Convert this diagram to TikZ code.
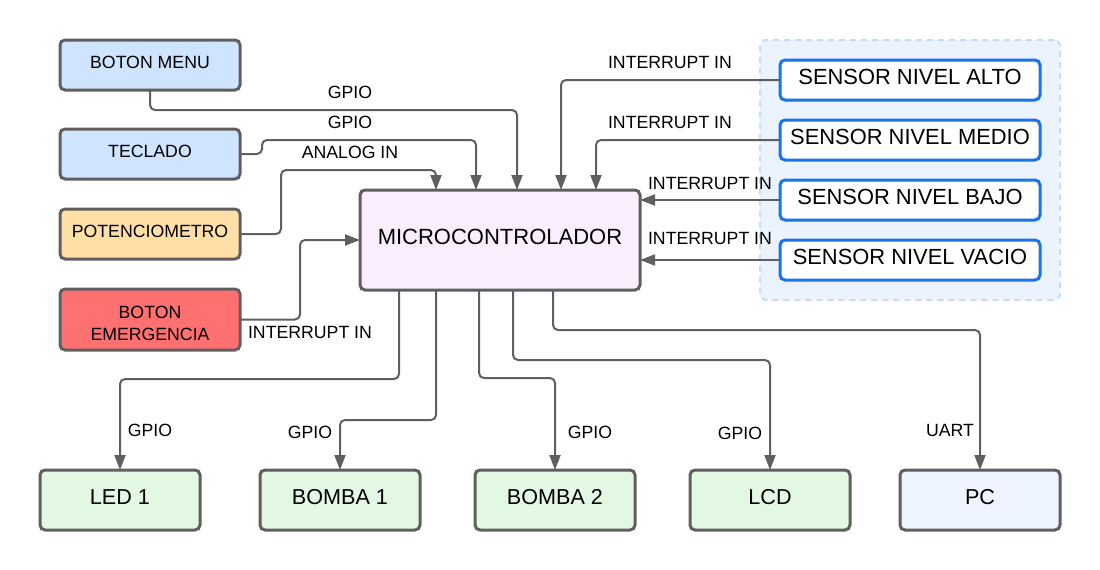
\documentclass[tikz,border=0pt]{standalone}
\usepackage{fontspec}
\setmainfont{Liberation Sans}
\usepackage{tikz}
\usetikzlibrary{positioning, arrows.meta, calc, fit, backgrounds}
\usepackage{xcolor}

\definecolor{linegray}{HTML}{5F5F5F}
\definecolor{menublue}{HTML}{CFE4FF}
\definecolor{potorange}{HTML}{FFDFA6}
\definecolor{emred}{HTML}{FF7070}
\definecolor{mcupink}{HTML}{F9EEFD}
\definecolor{outgreen}{HTML}{E2F8E2}
\definecolor{pcblue}{HTML}{EDF4FF}
\definecolor{sensorblue}{HTML}{1A73E8}
\definecolor{groupfill}{HTML}{EBF3FE}
\definecolor{groupline}{HTML}{C6DCFA}

\begin{document}
\begin{tikzpicture}[
    x=1pt, y=-1pt,
    inbox/.style={draw=linegray, line width=3pt, rounded corners=5pt, outer sep=0pt, minimum width=180pt, minimum height=50pt, text depth=6pt, align=center, font=\fontsize{17.7}{22}\selectfont},
    mcubox/.style={draw=linegray, line width=3pt, rounded corners=5pt, outer sep=0pt, fill=mcupink, minimum width=280pt, minimum height=100pt, text depth=6pt, font=\fontsize{22}{26}\selectfont},
    sensorbox/.style={draw=sensorblue, line width=3pt, rounded corners=5pt, outer sep=0pt, fill=white, minimum width=260pt, minimum height=40pt, text depth=6pt, font=\fontsize{21.9}{26}\selectfont},
    outbox/.style={draw=linegray, line width=3pt, rounded corners=5pt, outer sep=0pt, fill=outgreen, minimum width=160pt, minimum height=60pt, text depth=6pt, font=\fontsize{21.6}{26}\selectfont},
    group/.style={draw=groupline, fill=groupfill, line width=2pt, dash pattern=on 6pt off 5pt, rounded corners=6pt},
    arrow/.style={draw=linegray, line width=2pt, rounded corners=5pt, -{Triangle[length=15pt, width=11pt]}},
    label/.style={font=\fontsize{17.7}{20}\selectfont}
]
\useasboundingbox (0,0) rectangle (1100,570);

% Inputs
\node[inbox, fill=menublue] (menu) at (150,65) {BOTON MENU};
\node[inbox, fill=menublue, below=39pt of menu] (teclado) {TECLADO};
\node[inbox, fill=potorange, below=30pt of teclado] (pot) {POTENCIOMETRO};
\node[inbox, fill=emred, minimum height=61pt, text depth=0pt, text height=41pt, below=30pt of pot] (emerg) {BOTON\\EMERGENCIA};

% Microcontroller
\node[mcubox] (mcu) at (500,240) {MICROCONTROLADOR};

% Sensors
\node[sensorbox] (alto) at (910,80) {SENSOR NIVEL ALTO};
\node[sensorbox, below=20pt of alto] (medio) {SENSOR NIVEL MEDIO};
\node[sensorbox, below=20pt of medio] (bajo) {SENSOR NIVEL BAJO};
\node[sensorbox, below=20pt of bajo] (vacio) {SENSOR NIVEL VACIO};
\begin{scope}[on background layer]
\node[group, fit=(alto)(vacio), inner xsep=20pt, inner ysep=20pt] (sensores) {};
\end{scope}

% Outputs
\node[outbox] (led) at (120,500) {LED 1};
\node[outbox] (bomba1) at (340,500) {BOMBA 1};
\node[outbox] (bomba2) at (555,500) {BOMBA 2};
\node[outbox] (lcd) at (770,500) {LCD};
\node[outbox, fill=pcblue] (pc) at (980,500) {PC};

% Connections in
\draw[arrow] (menu.south) -- ++(0,20) -| ($(mcu.north west)+(157,0)$);
\draw[arrow] (teclado.east) -- ++(22,0) -- ++(0,-14) -| ($(mcu.north west)+(116,0)$);
\draw[arrow] (pot.east) -- ++(41,0) |- ($(mcu.north west)+(76,-20)$) -- ($(mcu.north west)+(76,0)$);
\draw[arrow] (emerg.east) -- ++(60,0) |- (mcu.west);
\draw[arrow] (alto.west) -| ($(mcu.north west)+(201,0)$);
\draw[arrow] (medio.west) -| ($(mcu.north west)+(236,0)$);
\draw[arrow] (bajo.west) -- (bajo.west -| mcu.east);
\draw[arrow] (vacio.west) -- (vacio.west -| mcu.east);

% Connections out
\draw[arrow] ($(mcu.south west)+(39,0)$) -- ++(0,89) -| (led.north);
\draw[arrow] ($(mcu.south west)+(76,0)$) -- ++(0,130) -| (bomba1.north);
\draw[arrow] ($(mcu.south west)+(119,0)$) -- ++(0,88) -| (bomba2.north);
\draw[arrow] ($(mcu.south west)+(153,0)$) -- ++(0,70) -| (lcd.north);
\draw[arrow] ($(mcu.south west)+(193,0)$) -- ++(0,40) -| (pc.north);

% Labels
\node[label] (lmenu) at (350,92) {GPIO};
\node[label] (lteclado) at (350,122) {GPIO};
\node[label] (lpot) at (350,152) {ANALOG IN};
\node[label] (lemerg) at (310,332) {INTERRUPT IN};
\node[label] (lalto) at (670,62) {INTERRUPT IN};
\node[label] (lmedio) at (670,122) {INTERRUPT IN};
\node[label] (lbajo) at (710,183) {INTERRUPT IN};
\node[label] (lvacio) at (710,238) {INTERRUPT IN};
\node[label] (lled) at (150,430) {GPIO};
\node[label] (lbomba1) at (310,432) {GPIO};
\node[label] (lbomba2) at (590,432) {GPIO};
\node[label] (llcd) at (740,433) {GPIO};
\node[label] (lpc) at (950,430) {UART};

\end{tikzpicture}
\end{document}
